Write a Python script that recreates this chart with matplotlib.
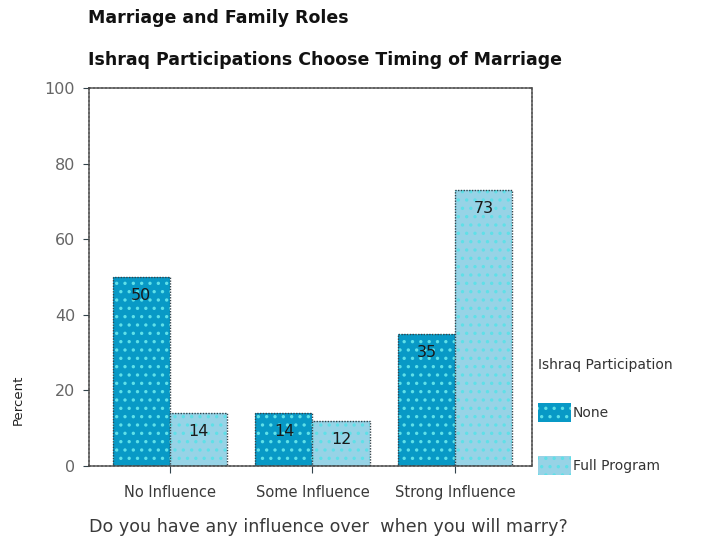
import matplotlib

matplotlib.use('Agg')

import matplotlib.pyplot as plt
from matplotlib.patches import Patch
import numpy as np

categories = ['No Influence', 'Some Influence', 'Strong Influence']
none_vals = [50, 14, 35]
full_vals = [14, 12, 73]
series_names = ['None', 'Full Program']
y_ticks = [0, 20, 40, 60, 80, 100]

none_color = '#0899c6'
full_color = '#97d3e6'
dot_color = '#5fe0e8'
edge_color = '#33444c'
text_gray = '#666666'

plt.rcParams['hatch.linewidth'] = 1.2

fig = plt.figure(figsize=(7.14, 5.44), dpi=100)
# axes box in pixels: x 89-532, y 88-466
ax = fig.add_axes([89 / 714, 1 - 466 / 544, (532 - 89) / 714, (466 - 88) / 544])

x = np.arange(len(categories))
w = 0.4

for offs, vals, col in [(-w / 2, none_vals, none_color), (w / 2, full_vals, full_color)]:
    # fill with dotted pattern
    ax.bar(x + offs, vals, w, color=col, edgecolor=dot_color, linewidth=0, hatch='..')
    # dotted outline
    ax.bar(x + offs, vals, w, fill=False, edgecolor=edge_color, linewidth=1.0, linestyle=(0, (1, 1)))
    for xi, v in zip(x + offs, vals):
        ax.text(xi, v - 3.0, str(v), ha='center', va='top', fontsize=11.5, color='#1a1a1a')

ax.set_xlim(-0.566, 2.538)
ax.set_ylim(0, 100)
ax.set_yticks(y_ticks)
ax.set_yticklabels([str(t) for t in y_ticks], fontsize=11.5, color=text_gray)
ax.set_xticks(x)
ax.set_xticklabels(categories, fontsize=10.5, color='#3a3a3a')
ax.tick_params(axis='y', length=4, direction='out', color=edge_color, pad=6)
ax.tick_params(axis='x', length=5, direction='out', color=edge_color, pad=9)

for sp in ax.spines.values():
    sp.set_linestyle((0, (1.2, 1.2)))
    sp.set_color('#444444')
    sp.set_linewidth(1.2)

fig.text(88 / 714, 1 - 18 / 544, 'Marriage and Family Roles', fontsize=12.5, fontweight='bold',
         ha='left', va='center', color='#111111')
fig.text(88 / 714, 1 - 60 / 544, 'Ishraq Participations Choose Timing of Marriage', fontsize=12.5,
         fontweight='bold', ha='left', va='center', color='#111111')
fig.text(18 / 714, 1 - 400 / 544, 'Percent', fontsize=9.5, rotation=90, ha='center', va='center',
         color='#222222')
fig.text(328 / 714, 1 - 527 / 544, 'Do you have any influence over  when you will marry?', fontsize=12.6,
         ha='center', va='center', color='#3a3a3a')

handles = [Patch(facecolor=none_color, edgecolor=dot_color, hatch='..', linewidth=0),
           Patch(facecolor=full_color, edgecolor=dot_color, hatch='..', linewidth=0)]
leg = fig.legend(handles, series_names, title='Ishraq Participation', loc='upper left',
                 bbox_to_anchor=(538 / 714, 1 - 358 / 544), frameon=False, fontsize=10,
                 title_fontsize=10, handlelength=2.4, handleheight=1.8, labelspacing=2.4,
                 handletextpad=0.1, borderaxespad=0, borderpad=0)
leg._legend_box.align = 'left'
leg._legend_box.sep = 22
for t in leg.get_texts():
    t.set_color('#333333')
leg.get_title().set_color('#333333')

fig.savefig('out.png', dpi=100)
